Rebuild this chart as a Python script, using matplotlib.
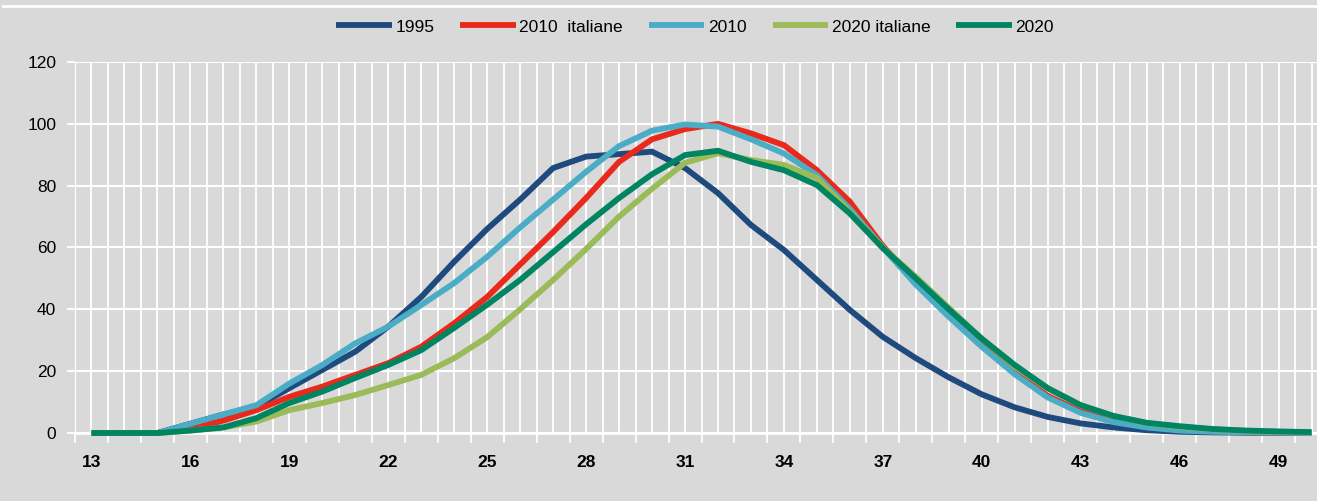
import numpy as np
import matplotlib
matplotlib.use("Agg")
import matplotlib.pyplot as plt
from matplotlib import font_manager
from matplotlib.lines import Line2D

# ages 13..50
ages = list(range(13, 51))

s1995 = [0, 0, 0, 3, 6, 8.5, 14.5, 20.4, 26.3, 34.4, 44, 55.4, 66, 75.5, 85.7, 89.4,
         90.2, 91, 85.7, 77.6, 67.3, 59.2, 49.5, 39.8, 31.1, 24.2, 18, 12.5, 8.3, 5.2,
         3.1, 1.8, 0.9, 0.4, 0.2, 0.1, 0, 0]
s2010_it = [0, 0, 0, 1.5, 4, 7.4, 11.7, 15, 18.8, 22.6, 27.9, 35.5, 44, 54.5, 65, 76,
            87.7, 95, 98.3, 100, 96.9, 93.1, 85, 74.8, 60.5, 49, 38.5, 28.5, 19.5, 12,
            7, 4, 2, 1, 0.5, 0.2, 0.1, 0]
s2010 = [0, 0, 0, 3, 6, 9, 16, 22, 29, 34.4, 41.4, 48.5, 57, 66.5, 75.5, 84.5,
         92.8, 97.8, 99.8, 99.1, 95, 90.4, 83.4, 72.5, 60, 48, 37.6, 27.9, 19, 11.5,
         6.5, 3.5, 1.8, 0.8, 0.4, 0.2, 0.1, 0]
s2020_it = [0, 0, 0, 0.8, 1.8, 3.7, 7.4, 9.7, 12.3, 15.5, 18.8, 24.2, 31, 40, 49.5, 59.5,
            70, 79, 87.4, 90.5, 88.3, 86.7, 82.5, 71.5, 60, 50.5, 40.5, 30.5, 21.5, 14.5,
            9, 5.5, 3.2, 2, 1.2, 0.7, 0.4, 0.2]
s2020 = [0, 0, 0, 0.8, 1.8, 4.8, 9.7, 13.4, 17.8, 22, 26.8, 34, 41.5, 49.5, 58.5, 67.5,
         76, 83.7, 89.9, 91.3, 87.7, 85, 80.2, 71, 59.8, 50, 40, 30.5, 22, 14.5,
         9, 5.5, 3.3, 2.2, 1.3, 0.8, 0.5, 0.3]

series = [("1995", s1995, "#1f4a7e"),
          ("2010  italiane", s2010_it, "#e8291c"),
          ("2010", s2010, "#4bacc6"),
          ("2020 italiane", s2020_it, "#9bbb59"),
          ("2020", s2020, "#008461")]

xlabels = list(range(13, 50, 3))
yticks = [0, 20, 40, 60, 80, 100, 120]

# narrow font like Arial Narrow if present
names = {f.name for f in font_manager.fontManager.ttflist}
if "Liberation Sans Narrow" in names:
    fam = "Liberation Sans Narrow"
    fs = 14.5
else:
    fam = "Liberation Sans"
    fs = 12.5
plt.rcParams["font.family"] = [fam, "DejaVu Sans"]

bg = "#d9d9d9"
fig = plt.figure(figsize=(13.17, 5.01), dpi=100, facecolor=bg)
W, H = 1317, 501
ax = fig.add_axes([75 / W, 68 / H, (1328 - 75) / W, 371 / H])
ax.set_facecolor(bg)

# white top border line
fig.add_artist(Line2D([3 / W, 1], [1 - 6 / H, 1 - 6 / H], color="white", lw=2))

for x in np.arange(12.5, 51.0, 0.5):
    ax.axvline(x, color="white", lw=1.3, zorder=1)
for y in yticks:
    ax.axhline(y, color="white", lw=1.5, zorder=1)

for name, vals, col in series:
    ax.plot(ages, vals, color=col, lw=4.2, label=name, solid_capstyle="round",
            solid_joinstyle="miter", zorder=3, clip_on=False)

ax.set_xlim(12.5, 50.5)
ax.set_ylim(0, 120)
for sp in ["top", "right"]:
    ax.spines[sp].set_visible(False)
ax.spines["left"].set_color("white")
ax.spines["bottom"].set_color("white")
ax.spines["bottom"].set_linewidth(2)

ax.set_xticks(np.arange(12.5, 51.0, 1.0))
ax.set_xticklabels([])
ax.tick_params(axis="x", which="major", length=7, width=1.3, color="white")
ax.set_xticks(xlabels, minor=True)
ax.set_xticklabels([str(v) for v in xlabels], minor=True, fontsize=fs, fontweight="bold")
ax.tick_params(axis="x", which="minor", length=0, pad=16)

ax.set_yticks(yticks)
ax.set_yticklabels([str(v) for v in yticks], fontsize=fs)
ax.tick_params(axis="y", length=6, width=1.3, color="white", pad=7.5)

handles, labels = ax.get_legend_handles_labels()
for h in handles:
    h.set_solid_capstyle("butt")
leg = fig.legend(handles, labels, loc="center", bbox_to_anchor=(695 / W, 1 - 27 / H), ncol=5,
                 frameon=False, fontsize=fs, handlelength=3.2, handletextpad=0.2,
                 columnspacing=1.5)

fig.savefig("out.png", dpi=100, facecolor=bg)
